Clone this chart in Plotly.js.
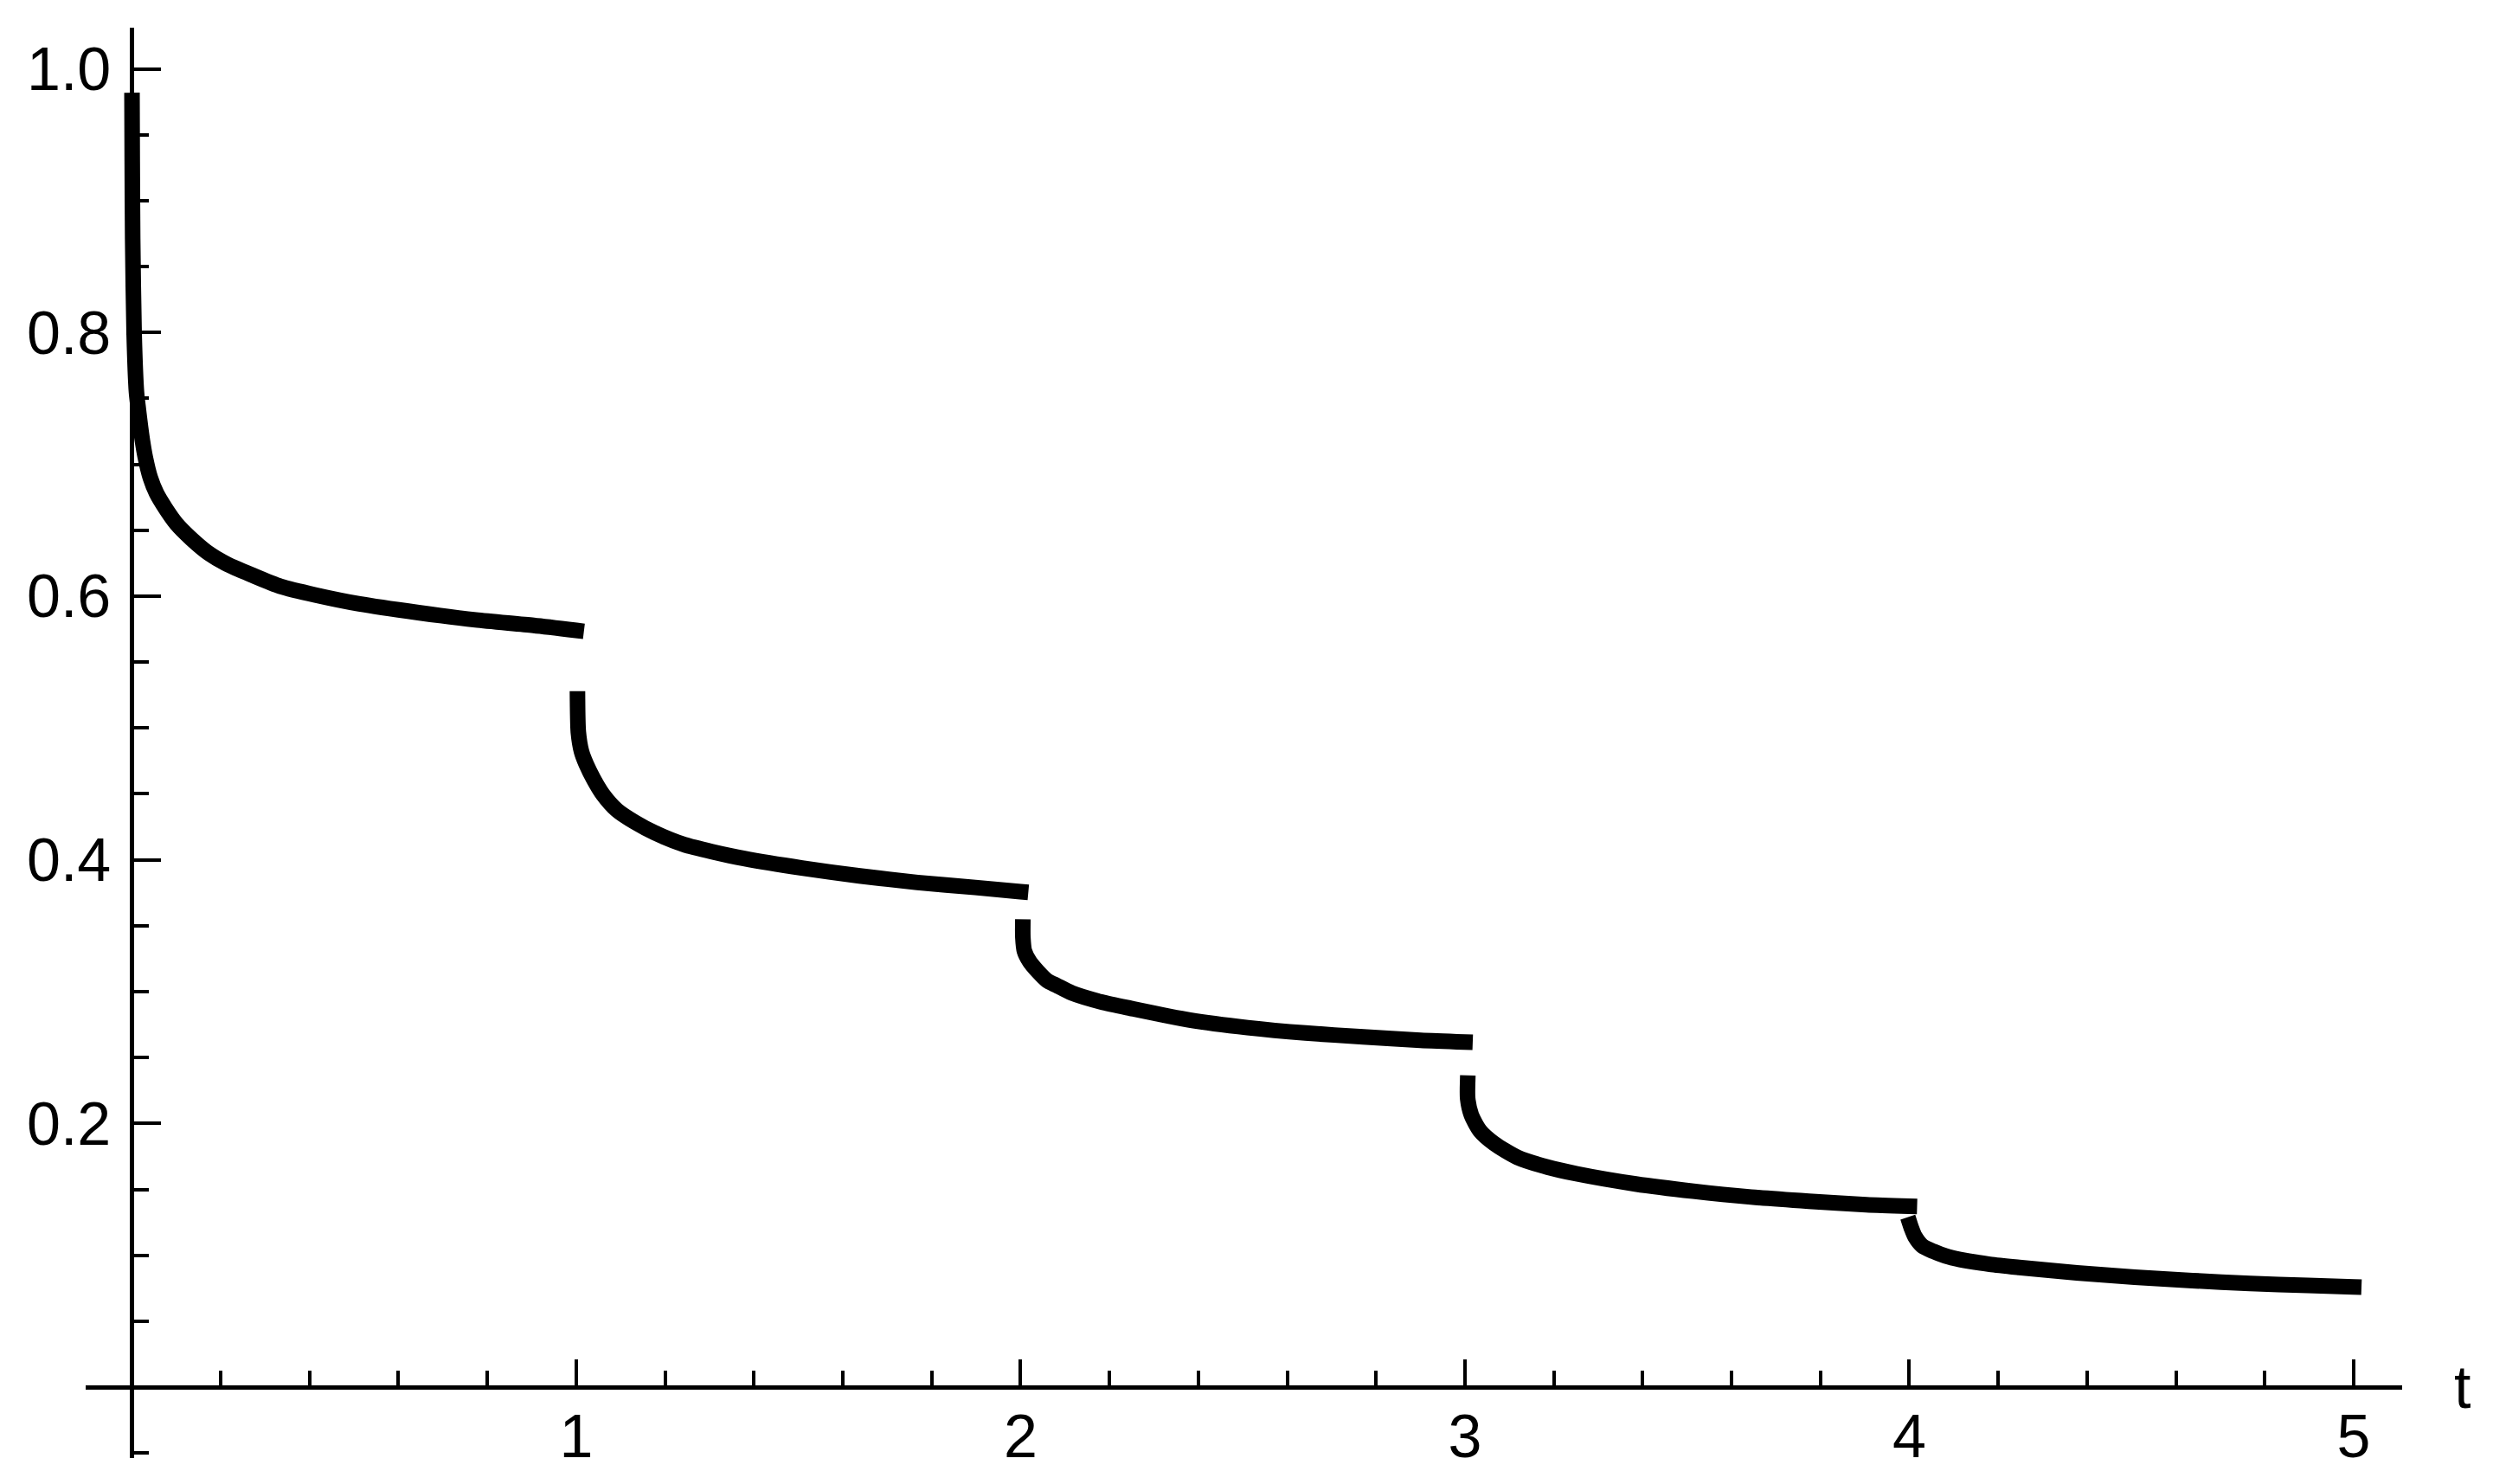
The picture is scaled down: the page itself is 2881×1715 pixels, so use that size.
<!DOCTYPE html>
<html>
<head>
<meta charset="utf-8">
<script src="https://cdn.plot.ly/plotly-3.0.1.min.js"></script>
<style>
  html, body { margin: 0; padding: 0; background: #fff; }
  #chart { width: 2881px; height: 1715px; }
  .js-line { stroke-linecap: square !important; stroke-linejoin: round !important; }
</style>
</head>
<body>
<div id="chart"></div>
<script>
// Segment data (t, y)
const t1 = [0.0005, 0.001, 0.002, 0.0053, 0.0105, 0.0150, 0.0234, 0.0302, 0.0416, 0.0556, 0.0760, 0.1000, 0.1338, 0.1744, 0.2154, 0.2684, 0.3344, 0.4140, 0.5122, 0.645, 0.774, 0.904, 1.0];
const y1 = [0.976, 0.93, 0.871, 0.7986, 0.7549, 0.7411, 0.7191, 0.7056, 0.6898, 0.6780, 0.6665, 0.6551, 0.6436, 0.6322, 0.6241, 0.6163, 0.6074, 0.6008, 0.5941, 0.5875, 0.582, 0.5778, 0.574];

const t2 = [1.003, 1.0049, 1.0119, 1.0226, 1.0394, 1.0602, 1.0917, 1.1328, 1.1768, 1.2434, 1.3096, 1.378, 1.508, 1.638, 1.768, 1.898, 2.0];
const y2 = [0.522, 0.4966, 0.4822, 0.4725, 0.4611, 0.4496, 0.4377, 0.4284, 0.4205, 0.4115, 0.4059, 0.401, 0.3938, 0.3878, 0.3828, 0.379, 0.3758];

const t3 = [2.0050, 2.0052, 2.0086, 2.0203, 2.0381, 2.0598, 2.0818, 2.1159, 2.1823, 2.248, 2.381, 2.511, 2.641, 2.771, 2.900, 3.0];
const y3 = [0.349, 0.3412, 0.3309, 0.3229, 0.3156, 0.3084, 0.3046, 0.2989, 0.2921, 0.2873, 0.2784, 0.2727, 0.2686, 0.2657, 0.2631, 0.2618];

const t4 = [3.006, 3.0062, 3.0144, 3.0339, 3.0658, 3.118, 3.1854, 3.2516, 3.384, 3.514, 3.644, 3.774, 3.903, 4.0];
const y4 = [0.2306, 0.2187, 0.2064, 0.1944, 0.1848, 0.1743, 0.1669, 0.1618, 0.1541, 0.1486, 0.1442, 0.141, 0.1383, 0.1372];

const t5 = [4.002, 4.005, 4.0128, 4.029, 4.0537, 4.081, 4.114, 4.181, 4.247, 4.377, 4.507, 4.637, 4.767, 4.897, 5.0];
const y5 = [0.1233, 0.1203, 0.1141, 0.1072, 0.1030, 0.0995, 0.0968, 0.0932, 0.0908, 0.0867, 0.0834, 0.0808, 0.0786, 0.0772, 0.076];

const xTickVals = [1, 2, 3, 4, 5];
const xTickText = ["1", "2", "3", "4", "5"];
const yTickVals = [0.2, 0.4, 0.6, 0.8, 1.0];
const yTickText = ["0.2", "0.4", "0.6", "0.8", "1.0"];
const xLabel = "t";

const segments = [[t1, y1], [t2, y2], [t3, y3], [t4, y4], [t5, y5]];
const traces = segments.map(([x, y]) => ({
  x: x, y: y, type: 'scatter', mode: 'lines',
  line: { color: '#000', width: 18, shape: 'spline', smoothing: 0.7, simplify: false },
  hoverinfo: 'skip', showlegend: false
}));

const xr = [-0.1038, 5.109];
const yr = [-0.0538, 1.0312];
const font = { family: '"Liberation Sans", Arial, sans-serif', size: 70, color: '#000' };

const layout = {
  width: 2881, height: 1715,
  margin: { l: 99, r: 105, t: 32, b: 30, pad: 0 },
  paper_bgcolor: '#fff', plot_bgcolor: '#fff',
  showlegend: false,
  font: font,
  xaxis: {
    range: xr, showgrid: false, showline: false,
    zeroline: true, zerolinecolor: '#000', zerolinewidth: 5,
    anchor: 'free', position: (0 - yr[0]) / (yr[1] - yr[0]),
    side: 'bottom',
    tickmode: 'array', tickvals: xTickVals, ticktext: xTickText,
    ticks: 'inside', ticklen: 32, tickwidth: 4, tickcolor: '#000',
    ticklabelstandoff: 10,
    tickfont: font,
    minor: { tickmode: 'linear', tick0: 0, dtick: 0.2, ticks: 'inside', ticklen: 19, tickwidth: 4, tickcolor: '#000', showgrid: false }
  },
  yaxis: {
    range: yr, showgrid: false, showline: false,
    zeroline: true, zerolinecolor: '#000', zerolinewidth: 5,
    anchor: 'free', position: (0 - xr[0]) / (xr[1] - xr[0]),
    side: 'left',
    tickmode: 'array', tickvals: yTickVals, ticktext: yTickText,
    ticks: 'inside', ticklen: 33, tickwidth: 4, tickcolor: '#000',
    ticklabelstandoff: 24,
    tickfont: font,
    minor: { tickmode: 'linear', tick0: 0, dtick: 0.05, ticks: 'inside', ticklen: 19, tickwidth: 4, tickcolor: '#000', showgrid: false }
  },
  annotations: [{
    text: xLabel, xref: 'x', yref: 'y', x: xr[1], y: 0,
    xanchor: 'left', yanchor: 'middle', xshift: 58, showarrow: false,
    font: font
  }]
};

Plotly.newPlot('chart', traces, layout, { staticPlot: true, displayModeBar: false });
</script>
</body>
</html>
